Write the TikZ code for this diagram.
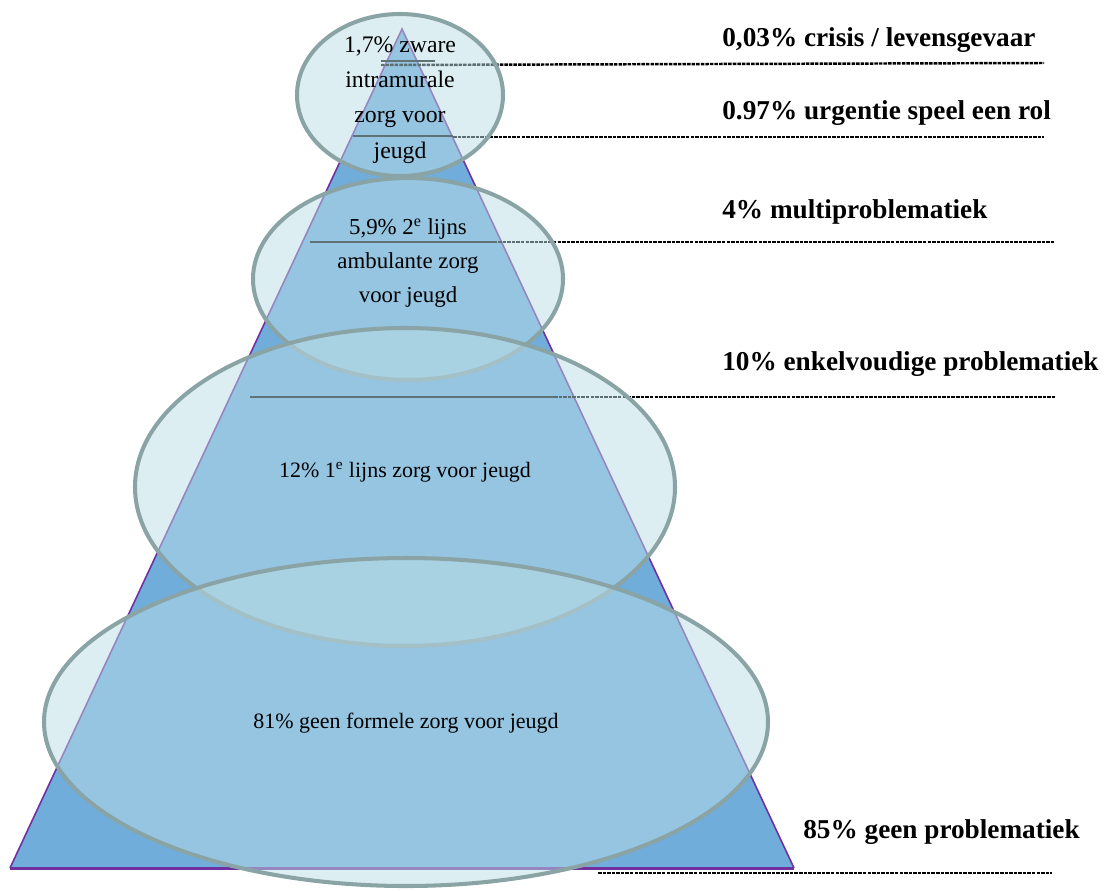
\documentclass[tikz,border=0pt]{standalone}
\usepackage{fontspec}
\setmainfont{Liberation Serif}
\definecolor{pyrblue}{HTML}{70ADDB}
\definecolor{pyrline}{HTML}{7030A0}
\definecolor{bubblefill}{HTML}{BBDDE5}
\definecolor{bubbleline}{HTML}{8AA4A6}
\definecolor{ruleline}{HTML}{5F7377}

\begin{document}
\begin{tikzpicture}[x=0.02cm,y=-0.02cm,
    bubble/.style={fill=bubblefill,fill opacity=0.5,draw=bubbleline,line width=2.3pt},
    dotline/.style={black,line width=1.4pt,dash pattern=on 2pt off 0.6pt},
    rule/.style={ruleline,line width=1.6pt},
    rlabel/.style={anchor=west,inner sep=0pt,font=\fontsize{15.5}{18}\selectfont\bfseries},
    inlabel/.style={align=center,inner sep=0pt}]
      \useasboundingbox (0,0) rectangle (1105,890);

      \coordinate (top) at (402,29); %pyramid corners
      \coordinate (bl) at (10,868);
      \coordinate (br) at (794,868);
      \fill[pyrblue] (top) -- (br) -- (bl) -- cycle;
      \draw[pyrline, line width=0.9pt] (bl) -- (top) -- (br);
      \draw[pyrline, line width=1.7pt] (bl) -- (br);

      %dotted lines to the right labels
      \coordinate (d1a) at (381,65);   \coordinate (d1b) at (1044,63);
      \coordinate (d2a) at (453,137);  \coordinate (d2b) at (1044,137);
      \coordinate (d3a) at (457,242);  \coordinate (d3b) at (1055,242);
      \coordinate (d4a) at (554,397);  \coordinate (d4b) at (1055,397);
      \coordinate (d5a) at (598,873);  \coordinate (d5b) at (1052,873);
      \draw[dotline] (d1a) -- (d1b);
      \draw[dotline] (d2a) -- (d2b);
      \draw[dotline] (d3a) -- (d3b);
      \draw[dotline] (d4a) -- (d4b);
      \draw[dotline] (d5a) -- (d5b);

      %draw ellipses
      \draw[bubble] (400,95) ellipse [x radius=103, y radius=81];
      \draw[bubble] (408,279) ellipse [x radius=155, y radius=101];
      \draw[bubble] (405,487) ellipse [x radius=270, y radius=159];
      \draw[bubble] (406,722) ellipse [x radius=362, y radius=164];

      %solid parts inside the pyramid
      \coordinate (s1a) at (381,61);  \coordinate (s1b) at (435,61);
      \coordinate (s2a) at (353,136); \coordinate (s2b) at (453,136);
      \coordinate (s3a) at (310,242); \coordinate (s3b) at (495,242);
      \coordinate (s4a) at (250,397); \coordinate (s4b) at (554,397);
      \draw[rule] (s1a) -- (s1b);
      \draw[rule] (s2a) -- (s2b);
      \draw[rule] (s3a) -- (s3b);
      \draw[rule] (s4a) -- (s4b);

      %draw labels
      \node[inlabel, font=\fontsize{13.5}{20}\selectfont] (zware) at (400,100)
        {1,7\% zware\\intramurale\\zorg voor\\jeugd};
      \node[inlabel, font=\fontsize{13}{19.5}\selectfont] (ambulant) at (408,263)
        {5,9\% 2\textsuperscript{e} lijns\\ambulante zorg\\voor jeugd};
      \node[inlabel, font=\fontsize{12.5}{15}\selectfont] (eerste) at (405,472)
        {12\% 1\textsuperscript{e} lijns zorg voor jeugd};
      \node[inlabel, font=\fontsize{12.5}{15}\selectfont] (geen) at (406,723)
        {81\% geen formele zorg voor jeugd};

      \node[rlabel] (crisis) at (722,40) {0,03\% crisis / levensgevaar};
      \node[rlabel] (urgentie) at (722,113) {0.97\% urgentie speel een rol};
      \node[rlabel] (multi) at (722,212) {4\% multiproblematiek};
      \node[rlabel] (enkel) at (722,364) {10\% enkelvoudige problematiek};
      \node[rlabel] (geenprob) at (803,832) {85\% geen problematiek};
\end{tikzpicture}
\end{document}
